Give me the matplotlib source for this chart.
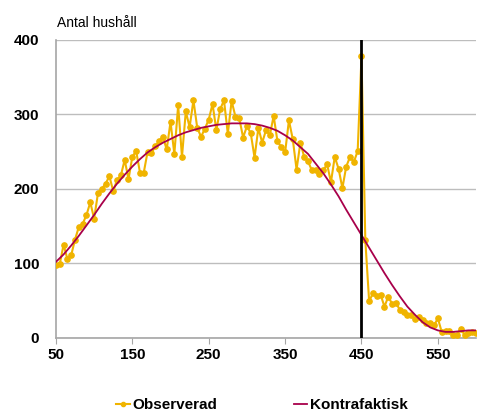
import numpy as np
import matplotlib
matplotlib.use("Agg")
import matplotlib.pyplot as plt

# === DATA ===
obs_x = list(range(50, 605, 5))
obs_y = [98, 99, 125, 106, 111, 132, 149, 153, 165, 182,
         160, 194, 200, 207, 217, 197, 212, 218, 239, 213,
         243, 251, 222, 222, 250, 248, 257, 264, 270, 253,
         290, 247, 312, 243, 304, 283, 319, 282, 270, 281,
         293, 314, 279, 307, 319, 274, 318, 297, 295, 269,
         284, 275, 242, 282, 262, 279, 272, 298, 264, 256,
         249, 292, 267, 226, 262, 243, 237, 225, 225, 220,
         225, 233, 209, 243, 227, 201, 230, 243, 236, 251,
         378, 131, 49, 60, 56, 58, 42, 55, 46, 47,
         38, 35, 31, 30, 25, 28, 24, 20, 20, 17,
         26, 8, 9, 9, 4, 4, 12, 4, 6, 8,
         7]

cf_x = list(range(50, 610, 10))
cf_y = [102, 112, 124, 137, 151, 165, 180, 194, 207, 219,
        230, 240, 249, 256, 262, 267, 272, 276, 279, 282,
        284, 286, 287, 288, 288, 288, 287, 285, 282, 278,
        272, 265, 256, 247, 234, 221, 206, 190, 172, 155,
        138, 121, 104, 87, 71, 56, 42, 31, 21, 14,
        10, 8, 8, 9, 10, 10]

xticks = [50, 150, 250, 350, 450, 550]
yticks = [0, 100, 200, 300, 400]
cutoff = 450

GOLD = "#F0B400"
RED = "#A8004A"
GRID = "#BDBDBD"

plt.rcParams["font.family"] = ["Liberation Sans", "DejaVu Sans"]

fig = plt.figure(figsize=(4.78, 4.12), dpi=100)
ax = fig.add_axes([0.117, 0.180, 0.879, 0.723])

ax.plot(obs_x, obs_y, color=GOLD, lw=1.5, marker="o", ms=3.8, zorder=3,
        label="Observerad")
ax.plot(cf_x, cf_y, color=RED, lw=1.3, zorder=4, label="Kontrafaktisk")
ax.axvline(cutoff, color="black", lw=2, zorder=5)

ax.set_xlim(50, 600)
ax.set_ylim(0, 400)
ax.set_xticks(xticks)
ax.set_yticks(yticks)
ax.grid(axis="y", color=GRID, lw=1)
ax.set_axisbelow(True)

for s in ["top", "right"]:
    ax.spines[s].set_visible(False)
for s in ["left", "bottom"]:
    ax.spines[s].set_color("#A6A6A6")
    ax.spines[s].set_linewidth(1.2)

ax.tick_params(axis="x", length=4, color="#A6A6A6", direction="out", pad=3)
ax.tick_params(axis="y", length=0, pad=12)
for lab in ax.get_xticklabels() + ax.get_yticklabels():
    lab.set_fontweight("bold")
    lab.set_fontsize(11)

fig.text(0.119, 0.945, "Antal hushåll", fontsize=10, ha="left", va="center")

leg = fig.legend(loc="center", bbox_to_anchor=(0.548, 0.016), ncol=2,
                 frameon=False, handlelength=0.9, handletextpad=0.15,
                 columnspacing=5.0, borderpad=0.2,
                 prop={"weight": "bold", "size": 11})
leg.legend_handles[0].set_markersize(3)

fig.savefig("out.png", dpi=100)
